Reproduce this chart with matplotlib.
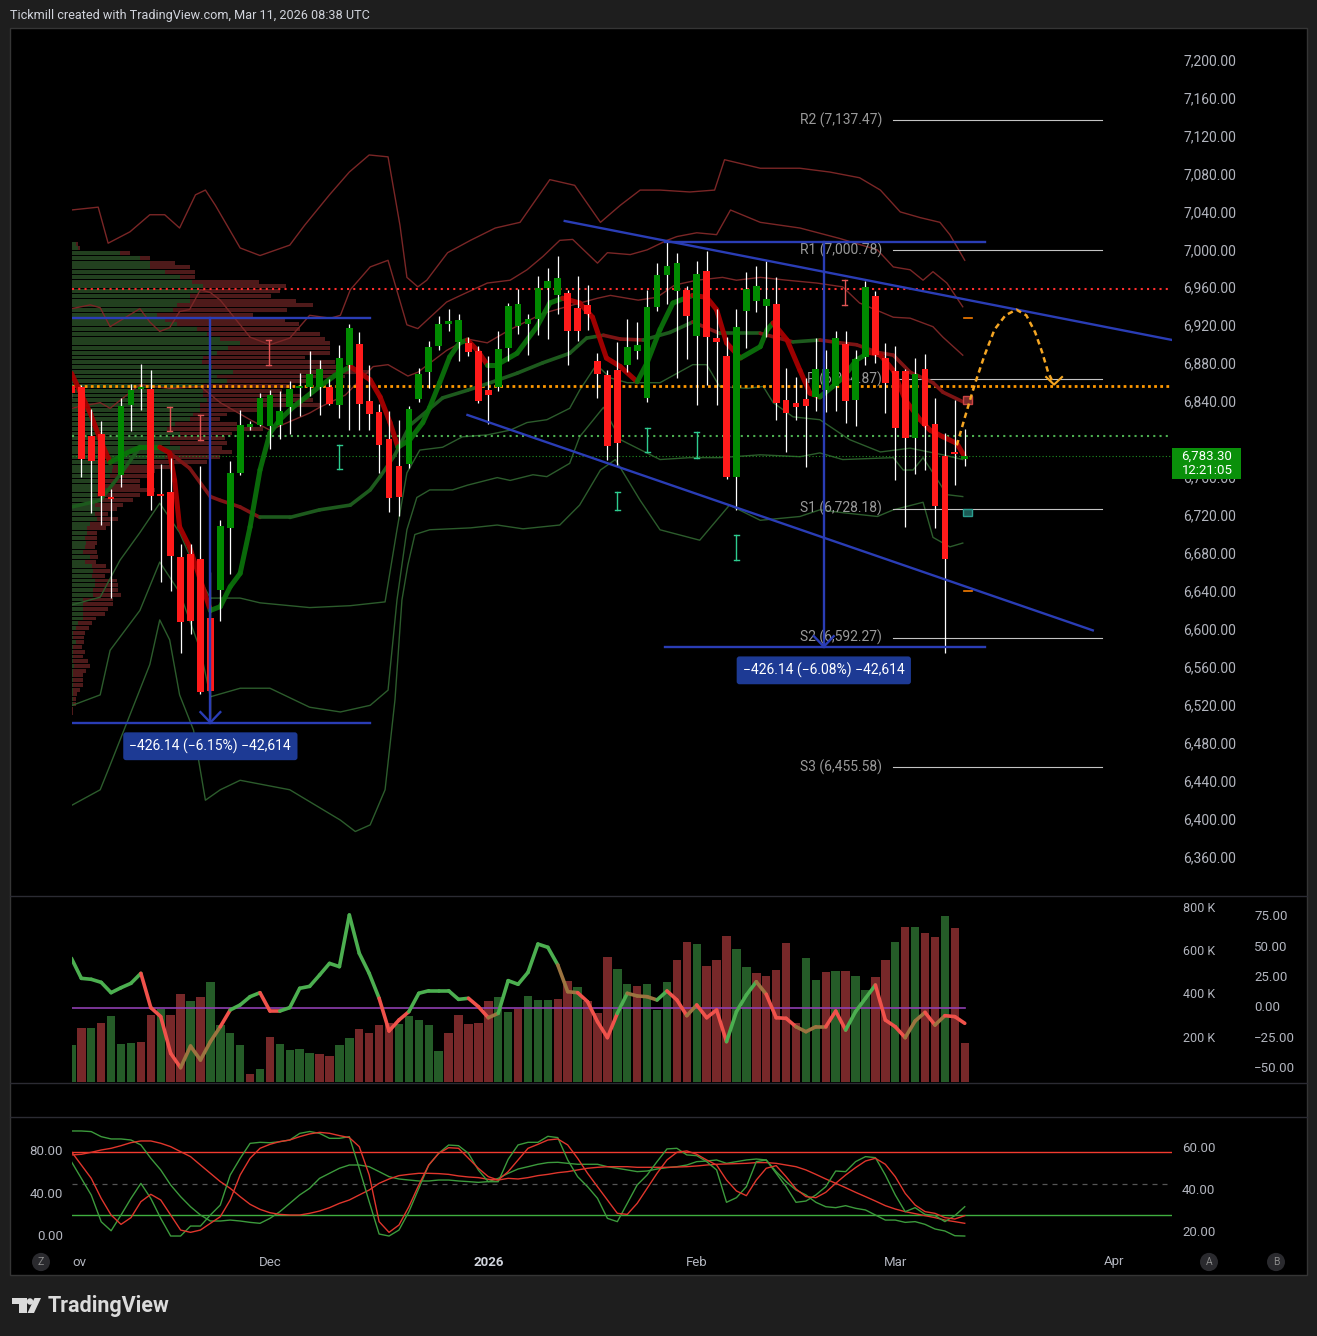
import numpy as np
import matplotlib
matplotlib.use("Agg")
import matplotlib.pyplot as plt
from matplotlib.collections import LineCollection
from matplotlib.patches import Rectangle, Circle, Polygon
from matplotlib.transforms import blended_transform_factory as blend

plt.rcParams['font.family'] = ['Roboto', 'DejaVu Sans']

W, H = 1317, 1336

# ---------------- data (daily bars, Nov 2025 .. Mar 11 2026) ----------------
opens = [6858,6856,6805,6807,6741,6764,6837,6854,6854,6744,6746,6677,6680,6675,6613,6643,6708,6766,6814,6816,
         6815,6816,6835,6855,6856,6856,6856,6838,6880,6902,6842,6830,6802,6773,6775,6844,6872,6900,6923,6904,
         6903,6894,6853,6856,6898,6921,6923,6928,6961,6953,6956,6940,6943,6884,6869,6874,6880,6894,6845,6941,
         6974,6958,6959,6910,6979,6908,6889,6762,6937,6947,6942,6944,6843,6840,6844,6846,6853,6857,6902,6843,
         6888,6952,6887,6873,6873,6803,6875,6817,6784,6787,6781]
highs = [6862,6859,6833,6821,6749,6845,6860,6881,6874,6775,6782,6691,6691,6773,6661,6716,6778,6832,6821,6850,
         6853,6852,6863,6871,6894,6885,6865,6901,6923,6914,6880,6839,6831,6822,6836,6876,6905,6931,6939,6933,
         6909,6900,6889,6916,6945,6960,6933,6973,6982,6994,6959,6973,6964,6892,6874,6904,6928,6925,6959,6987,
         7011,6998,6963,6989,7000,6939,6909,6939,6978,6984,6989,6972,6877,6867,6866,6908,6895,6915,6915,6895,
         6968,6958,6903,6900,6875,6887,6891,6845,6808,6843,6812]
lows = [6845,6762,6724,6711,6634,6751,6810,6832,6727,6651,6641,6576,6596,6533,6507,6610,6659,6764,6811,6815,
        6791,6802,6807,6826,6847,6827,6837,6824,6811,6811,6811,6766,6725,6720,6771,6841,6855,6895,6915,6884,
        6889,6840,6817,6852,6884,6912,6890,6911,6907,6933,6880,6905,6917,6845,6780,6773,6872,6886,6841,6937,
        6944,6866,6886,6837,6859,6837,6760,6727,6898,6935,6909,6822,6788,6822,6772,6831,6830,6831,6819,6815,
        6880,6882,6829,6758,6709,6765,6769,6708,6576,6753,6773]
closes = [6850,6781,6778,6742,6738,6836,6853,6856,6742,6742,6678,6609,6610,6535,6536,6710,6766,6816,6817,6845,
          6848,6831,6854,6857,6870,6875,6839,6887,6919,6839,6828,6795,6739,6741,6833,6870,6899,6923,6926,6927,
          6893,6842,6848,6897,6942,6944,6928,6961,6968,6971,6915,6915,6933,6870,6794,6797,6899,6901,6941,6974,
          6984,6987,6931,6976,6909,6904,6762,6920,6960,6963,6949,6840,6829,6835,6836,6875,6875,6908,6842,6886,
          6962,6890,6861,6813,6803,6870,6815,6731,6675,6786,6783.3]

volume_k = [169,247,247,270,302,173,178,182,307,336,307,404,372,390,460,261,224,168,35,58,
            206,173,145,150,131,127,118,168,201,243,224,261,270,266,302,284,261,141,224,307,
            266,270,372,390,321,335,395,376,376,381,464,436,372,316,575,520,450,441,450,330,
            460,561,644,635,533,561,672,612,529,501,487,515,640,270,570,469,506,510,510,487,
            423,483,561,644,714,714,686,667,764,709,178]
volume_dir = "grgrgggrrg" "rrgrggggrg" "rggggrrggr" "rrrgggggrr" "rrrggrgggr" \
             "rgrrrggrgg" "grrgrrrggr" "rrrrggrgrg" "grrgrgrrgr" "r"

osc = [40.9,24.4,23.6,21.1,12.6,16.7,20.3,28.5,0.3,-7.1,-37.3,-49.1,-31.3,-42.8,-27.7,-15.4,-1.6,2.5,9.3,12.6,
       -2.5,-2.5,0.3,16.2,17.8,27.1,36.7,34.0,76.5,45.0,28.5,8.0,-18.9,-9.9,-3.0,12.1,14.2,14.2,14.2,7.1,
       8.0,1.1,-8.0,-4.4,22.5,19.5,29.3,52.6,49.9,35.4,13.4,12.6,5.2,-11.3,-24.4,-4.4,12.1,9.9,9.3,6.6,
       14.0,6.6,-6.3,2.5,-8.0,-1.6,-27.7,-3.0,10.7,21.6,11.3,-8.0,-8.5,-15.4,-19.5,-15.4,-15.4,-2.5,-18.1,-3.0,
       8.0,18.9,-9.9,-15.4,-24.4,-10.7,-3.6,-14.0,-6.3,-7.1,-12.6]
osc_state = "ggggggg" "rrrr" "bbbb" "r" "ggg" "rr" "gggggggggg" "rrr" "gggggg" "rr" "b" "gggggg" "bb" \
            "rrr" "r" "g" "bbb" "g" "rr" "b" "rrr" "ggg" "b" "rrr" "bbb" "rr" "ggg" "rrr" "bb" "r" "b" "rr"

stoch_k = [70.8,54.9,39.0,13.6,5.0,20.0,35.8,50.1,35.8,16.8,0.0,0.0,9.5,9.5,20.0,29.5,58.1,73.9,88.2,89.2,
           88.8,89.8,91.4,97.7,99.5,97.7,93.0,93.0,94.6,64.4,32.7,1.9,0.0,5.7,23.1,45.3,67.6,78.7,86.6,86.0,
           78.7,62.8,51.7,51.7,73.0,86.7,89.2,89.2,94.9,93.7,72.4,56.5,47.0,35.9,16.8,13.7,31.1,48.6,58.1,70.8,
           82.9,83.5,77.2,76.5,70.8,62.9,32.1,36.5,47.0,70.8,72.4,59.7,47.0,32.1,33.3,39.1,47.0,61.9,61.3,70.8,
           75.6,74.6,58.1,39.1,23.2,27.0,20.6,19.4,13.7,19.4,27.9]
stoch_d = [80.3,67.6,54.9,35.9,20.0,11.1,17.5,32.7,39.7,34.3,20.0,5.7,3.5,5.7,12.1,18.4,34.3,58.1,74.0,83.5,
           87.3,89.9,91.4,94.6,97.2,98.7,97.8,95.6,93.7,85.1,58.1,13.7,3.5,10.5,27.9,48.6,67.6,78.7,84.1,83.5,
           74.0,64.5,56.5,53.3,61.3,72.4,83.5,87.3,91.4,92.4,86.7,74.0,59.7,47.0,34.3,21.6,20.6,31.1,45.4,59.7,
           72.4,79.7,81.0,77.8,72.4,67.6,53.3,42.9,38.4,53.3,64.5,67.0,56.5,44.8,37.5,36.5,41.6,50.2,58.1,65.1,
           71.4,74.0,68.3,56.5,40.6,29.5,23.2,21.6,17.5,16.2,19.4]
slow_k = [100,100,99.4,94.6,92.4,92.4,91.4,86.7,74.0,62.9,48.6,37.5,27.9,20.0,14.3,14.3,15.2,14.3,13.0,12.1,
          16.8,23.2,31.1,39.1,45.4,54.9,59.7,64.5,67.6,67.6,66.0,61.3,56.5,54.3,53.3,52.4,52.4,53.3,53.3,52.4,
          51.8,51.1,51.8,54.9,59.7,63.8,66.0,68.3,69.9,70.2,69.2,68.3,68.3,68.3,66.0,64.5,62.9,61.3,61.9,63.8,
          65.1,66.0,67.6,70.8,71.4,72.4,69.2,70.8,72.4,73.3,72.4,61.3,51.8,43.8,39.1,32.1,27.9,27.0,28.9,26.4,
          24.8,20.0,15.2,15.2,13.0,13.7,11.1,6.7,4.8,0.3,0.0]
slow_d = [77.2,77.8,79.7,81.9,83.5,86.0,88.9,90.5,90.5,88.3,85.1,80.3,75.6,67.6,59.7,51.8,45.4,37.5,30.2,25.4,
          22.2,20.6,20.0,20.0,21.6,23.8,27.0,31.1,34.3,39.1,43.8,50.2,54.3,57.5,58.7,59.7,59.7,59.4,58.7,57.2,
          56.2,55.6,54.0,53.3,54.9,54.3,55.6,57.5,58.7,60.3,61.3,62.9,64.5,65.4,66.0,66.0,66.0,65.4,65.4,65.4,
          65.4,65.7,66.0,66.7,67.6,68.3,68.6,68.9,69.2,69.9,69.9,69.2,67.6,66.0,62.9,58.7,54.3,50.2,46.0,41.6,
          37.5,33.3,28.9,25.7,23.2,21.3,19.4,17.5,15.2,13.7,12.1]

# moving averages and bands: (bar, price) vertices
fast_ma = [(0,6871),(1.9,6829),(2.9,6801),(3.9,6777),(5.6,6787),(6.9,6793),(8.9,6793),(9.9,6787),(10.4,6758),
           (10.9,6709),(11.9,6688),(13,6653),(14,6621),(15,6625),(16,6646),(17,6660),(18,6709),(19,6769),
           (20,6808),(21,6822),(22.3,6835),(25,6857),(26.6,6869),(28.1,6878),(30.1,6864),(31.1,6846),
           (32.1,6819),(32.9,6793),(34.1,6801),(35.4,6819),(36.1,6835),(37.1,6861),(38.1,6888),(39.1,6903),
           (39.9,6906),(40.9,6895),(41.9,6880),(42.9,6880),(44.9,6892),(46.9,6920),(48.2,6945),(49.5,6950),
           (51.2,6945),(52.5,6930),(53.9,6887),(55.3,6878),(57,6862),(58,6882),(59.3,6917),(60.6,6945),
           (62.6,6953),(64,6951),(65,6938),(66,6903),(67.4,6887),(69.4,6899),(70.1,6917),(70.7,6924),
           (72.1,6906),(73.4,6874),(74.4,6850),(75.4,6846),(76.7,6857),(77.7,6866),(79.1,6885),(80.4,6893),
           (81.5,6890),(82.8,6874),(84,6843),(85.5,6822),(86.5,6811),(87.8,6804),(89.2,6797),(90,6783)]
slow_ma = [(0,6730),(2.9,6737),(4.9,6764),(6.9,6793),(8.9,6793),(9.9,6787),(11.9,6771),(14,6741),(15,6737),
           (17,6730),(19,6719),(22,6719),(25,6727),(28.1,6732),(30.1,6748),(31.1,6762),(32.6,6785),(34.1,6816),
           (37.4,6845),(39.9,6853),(42.2,6861),(44.9,6871),(47.5,6882),(50.2,6892),(51.9,6908),(53.6,6911),
           (55.3,6907),(57.6,6906),(60.3,6914),(62.6,6925),(65.3,6913),(69.4,6913),(72.7,6904),(75.4,6906),
           (77.4,6903),(79.1,6901),(81.2,6893),(82.8,6890),(84.5,6872),(86.8,6861),(87.8,6851),(89.8,6841)]
band_u2 = [(0,7043),(2.7,7046),(3.7,7008),(5.9,7020),(7.9,7038),(9.4,7038),(10.9,7024),(12.5,7059),(13.5,7064),
           (14.5,7048),(17,7003),(19,6995),(22,7006),(23.5,7027),(26,7059),(28,7083),(30,7101),(31.9,7099),
           (33.1,7027),(33.8,6972),(34.9,6962),(35.8,6969),(37.9,6998),(40.2,7011),(42.7,7024),(45.2,7030),
           (48.2,7075),(50.7,7069),(53.3,7030),(55.3,7048),(57.3,7064),(59.3,7064),(62.3,7062),(64.8,7064),
           (65.8,7096),(69.4,7087),(73.4,7087),(76.4,7083),(79.4,7077),(81.5,7064),(83.5,7041),(85.5,7035),
           (87.5,7030),(88.5,7017),(90,6990)]
band_u1 = [(0,6939),(1.9,6943),(2.9,6940),(3.9,6920),(6.9,6939),(7.9,6925),(8.9,6915),(9.9,6919),(10.9,6936),
           (11.9,6938),(13,6959),(14,6956),(15,6948),(18,6909),(20,6901),(22,6908),(24,6932),(26.1,6929),
           (27.1,6932),(28.1,6959),(30.1,6983),(31.9,6990),(33.8,6922),(34.9,6918),(37.8,6946),(38.8,6951),
           (41.9,6966),(44.2,6969),(45.9,6980),(47.5,6994),(49.2,7011),(50.5,7012),(53,6987),(54,6998),
           (56.3,6996),(58,7001),(60,7011),(61,7015),(63,7019),(65,7017),(66.4,7043),(69.4,7030),(73.4,7024),
           (77.4,7013),(81.2,7001),(82.8,6983),(84.5,6980),(85.8,6969),(86.8,6978),(88.2,6966),(89.8,6941)]
band_u0 = [(0,6834),(2.9,6840),(3.9,6834),(6.9,6859),(9.9,6855),(13,6857),(15,6840),(18,6822),(20,6811),
           (24,6829),(25,6835),(27.6,6848),(30.4,6878),(31.9,6880),(33.9,6868),(34.9,6872),(37.8,6895),
           (39.9,6907),(41.9,6903),(44.2,6917),(47.5,6934),(50.2,6942),(53,6950),(54.3,6953),(57.1,6948),
           (59,6951),(60.8,6964),(63,6969),(65.6,6972),(67,6969),(69.4,6972),(72.1,6969),(75.1,6966),
           (77.7,6962),(79.4,6945),(82.8,6930),(84.5,6929),(86.8,6920),(87.8,6909),(89.8,6890)]
band_l0 = [(0.1,6627),(2.9,6635),(4.9,6674),(6.9,6703),(8.9,6734),(10.9,6703),(13,6653),(14,6634),(17,6634),
           (19,6629),(24,6624),(28.1,6626),(31.6,6630),(32.8,6706),(33.8,6766),(35.1,6790),(37.4,6793),
           (39.4,6804),(41.9,6806),(44.2,6811),(45.9,6819),(47.9,6822),(50.2,6834),(51.2,6853),(52.9,6880),
           (54.3,6866),(56,6861),(59.3,6861),(62.6,6880),(64,6880),(65.3,6857),(68.1,6855),(69.7,6857),
           (70.7,6840),(72.7,6825),(75.4,6822),(78.4,6801),(81.5,6788),(84.5,6792),(87.8,6785),(89.8,6780)]
band_l1 = [(0.1,6521),(2.9,6532),(3.9,6579),(6.9,6621),(8.9,6672),(10.9,6640),(13,6579),(14,6530),(17,6539),
           (20,6539),(24,6519),(27.1,6514),(30.1,6521),(31.9,6537),(32.8,6632),(33.8,6706),(34.8,6740),
           (36.1,6748),(38.4,6748),(39.9,6753),(42.9,6761),(44.2,6758),(46.5,6764),(47.9,6762),(50.2,6776),
           (51.2,6804),(53.6,6835),(55.3,6801),(59.3,6780),(62.3,6782),(65.3,6782),(69.4,6785),(73.4,6783),
           (75.4,6787),(77.7,6780),(82.8,6782),(83.8,6769),(84.8,6769),(85.8,6782),(86.8,6766),(88.2,6743),
           (89.8,6741)]
band_l2 = [(0.1,6416),(2.9,6432),(3.9,6458),(5.9,6511),(7.9,6564),(8.9,6611),(9.9,6590),(10.9,6532),(12.3,6495),
           (13.5,6421),(15,6432),(17,6442),(22,6432),(27.1,6400),(28.6,6388),(30.1,6395),(31.6,6432),(32.6,6527),
           (33.3,6632),(33.9,6669),(34.6,6701),(36.1,6706),(40.2,6708),(42.9,6711),(45.5,6707),(49.2,6711),
           (51.2,6732),(53.3,6769),(54.8,6780),(57.3,6737),(59.3,6706),(63.3,6695),(66.3,6732),(69.4,6716),
           (73.4,6720),(75.4,6727),(77.7,6724),(81.2,6720),(82.8,6727),(85.8,6735),(86.8,6698),(88.5,6688),
           (89.8,6692)]

# fixed-range volume profile, rows of 5 points from the top row down
vp_top_price = 7007.5
vp_row_step = 5
vp_up = [4,6,48,68,78,78,93,108,120,131,128,118,118,105,101,85,93,105,125,135,148,168,156,145,131,130,140,161,
         145,155,131,131,131,135,128,128,121,118,103,95,108,98,98,108,98,93,78,41,40,38,28,28,38,25,28,23,28,23,
         25,18,15,15,13,14,13,11,18,13,20,21,20,23,23,21,21,11,11,11,11,11,6,4,1,1,4,1,1,1,1,2,1,1,1,1,1,1,1,1,0,0]
vp_down = [2,2,10,10,25,40,30,15,67,83,80,81,106,136,114,96,120,122,103,113,105,90,102,113,102,133,128,137,
           128,80,87,79,97,106,120,60,34,30,62,96,52,55,57,42,62,55,57,59,43,37,40,40,45,43,33,28,17,13,21,20,
           19,10,12,11,10,14,8,11,14,17,13,22,23,25,28,30,30,25,22,13,14,13,12,11,8,9,12,10,15,16,13,10,10,10,
           7,4,3,3,1,1]

# levels
red_level, orange_level, green_level = 6960, 6857.5, 6805
pivots = [("R2", 7137.47), ("R1", 7000.78), ("P", 6864.87), ("S1", 6728.18), ("S2", 6592.27), ("S3", 6455.58)]
channel_upper = [(49.7, 7031.4), (110.9, 6906)]
channel_lower = [(39.9, 6827), (102.9, 6600)]
measure_left = dict(x0=0.06, x1=30.1, xm=14.0, top=6929.0, bottom=6502.86, text="\u2212426.14 (\u22126.15%) \u221242,614")
measure_right = dict(x0=59.8, x1=92.0, xm=75.8, top=7009.0, bottom=6582.86, text="\u2212426.14 (\u22126.08%) \u221242,614")
projection = [(89.2,6795),(90,6824),(91,6859),(92,6890),(93,6917),(94.1,6932),(95.2,6938),(96.2,6932),
              (97.1,6914),(97.8,6893),(98.4,6872),(99,6859)]
red_marks = [(9.9,6810,6835),(13,6801,6827),(19.9,6880,6906),(77.9,6943,6969)]
teal_marks = [(27,6770,6795),(55,6727,6746),(58,6788,6813),(63,6782,6809),(67,6674,6700)]

price_ticks = list(range(6360, 7201, 40))
month_ticks = [(20, "Dec"), (42, "2026"), (63, "Feb"), (83, "Mar"), (105, "Apr")]

# ---------------- layout helpers ----------------
GRN, RED = '#008a00', '#ff1a1a'
TXT = '#b2b5be'
XL = (0.06, 110.88)


def rect(x0, y0, x1, y1):
    return [x0 / W, 1 - y1 / H, (x1 - x0) / W, (y1 - y0) / H]


def colored_line(ax, pts, up_c, dn_c, lw, z, alpha=1.0):
    pts = np.asarray(pts, float)
    segs = np.stack([pts[:-1], pts[1:]], axis=1)
    cols = [up_c if s[1, 1] >= s[0, 1] else dn_c for s in segs]
    ax.add_collection(LineCollection(segs, colors=cols, linewidths=lw, zorder=z,
                                     capstyle='round', joinstyle='round', alpha=alpha))


fig = plt.figure(figsize=(W / 100, H / 100), dpi=100, facecolor='#1e1e1e')
fig.patches.append(Rectangle((10 / W, 1 - 1275 / H), 1297 / W, 1247 / H, transform=fig.transFigure,
                             facecolor='black', edgecolor='#353535', lw=1, zorder=-10))
for yy in (896, 1083, 1117):
    fig.add_artist(plt.Line2D([10 / W, 1307 / W], [1 - yy / H] * 2, color='#2b2b33', lw=1, zorder=-5))

fig.text(10 / W, 1 - 15 / H, "Tickmill created with TradingView.com, Mar 11, 2026 08:38 UTC",
         color='#d1d4dc', fontsize=9.1, va='center')

# ---------------- main price pane ----------------
ax = fig.add_axes(rect(72, 28, 1172, 895))
ax.set_facecolor('none')
ax.set_xlim(*XL)
ax.set_ylim(6321.1, 7234.8)
ax.axis('off')

n = len(closes)
x = np.arange(n)
o, hi, lo, c = map(np.asarray, (opens, highs, lows, closes))

# volume profile on the left
vp_up = np.asarray(vp_up, float)
vp_down = np.asarray(vp_down, float)
rows = vp_top_price - vp_row_step * np.arange(len(vp_up))
px_per_bar = 9.926
ax.barh(rows, vp_up / px_per_bar, left=XL[0], height=4.1, color='#22401f', lw=0, zorder=1)
ax.barh(rows, vp_down / px_per_bar, left=XL[0] + vp_up / px_per_bar, height=4.1, color='#4e1a1a', lw=0, zorder=1)

# bands
for band in (band_u2, band_u1, band_u0):
    b = np.asarray(band)
    ax.plot(b[:, 0], b[:, 1], color='#7a2626', lw=1.0, zorder=2)
for band in (band_l0, band_l1, band_l2):
    b = np.asarray(band)
    ax.plot(b[:, 0], b[:, 1], color='#2c5c2c', lw=1.0, zorder=2)

# moving averages
colored_line(ax, slow_ma, '#1d5a1d', '#7d1414', 2.6, 3)
colored_line(ax, fast_ma, '#0b700b', '#a80000', 3.6, 3, alpha=0.95)

# horizontal levels
ax.axhline(red_level, color='#ff2d2d', lw=1.5, ls=(0, (1, 2)), zorder=2)
ax.axhline(orange_level, color='#ff9800', lw=2.0, ls=(0, (1, 1.2)), zorder=2)
ax.axhline(green_level, color='#4caf50', lw=1.5, ls=(0, (1, 2)), zorder=2)
ax.axhline(closes[-1], color='#1f8f1f', lw=0.8, ls=(0, (1, 2)), zorder=2)

# pivots
for name, lvl in pivots:
    ax.plot([82.8, 103.8], [lvl, lvl], color='#c4c4c4', lw=0.8, zorder=2)
    ax.text(81.7, lvl, f"{name} ({lvl:,.2f})", color='#9a9a9a', fontsize=10, ha='right', va='center', zorder=2)

# candles
up = c >= o
ax.vlines(x, lo, hi, color='white', lw=0.9, zorder=4)
ax.bar(x, np.maximum(np.abs(c - o), 1.8), bottom=np.minimum(o, c), width=0.68,
       color=np.where(up, GRN, RED), lw=0, zorder=5)

# small markers
for marks, col in ((red_marks, '#e05555'), (teal_marks, '#2ecc8f')):
    for xm, y0, y1 in marks:
        ax.plot([xm, xm], [y0, y1], color=col, lw=1, zorder=4)
        ax.plot([xm - 0.25, xm + 0.25], [y0, y0], color=col, lw=1, zorder=4)
        ax.plot([xm - 0.25, xm + 0.25], [y1, y1], color=col, lw=1, zorder=4)

# trend channel and measurements
BLUE = '#2a3db5'
for seg in (channel_upper, channel_lower):
    s = np.asarray(seg)
    ax.plot(s[:, 0], s[:, 1], color=BLUE, lw=1.7, zorder=6)
for m in (measure_left, measure_right):
    ax.plot([m['x0'], m['x1']], [m['top']] * 2, color=BLUE, lw=1.7, zorder=6)
    ax.plot([m['x0'], m['x1']], [m['bottom']] * 2, color=BLUE, lw=1.7, zorder=6)
    ax.plot([m['xm'], m['xm']], [m['top'], m['bottom']], color=BLUE, lw=1.7, zorder=6)
    ax.plot([m['xm'] - 1.0, m['xm'], m['xm'] + 1.0], [m['bottom'] + 11, m['bottom'], m['bottom'] + 11],
            color=BLUE, lw=1.7, zorder=6)
    ax.text(m['xm'], m['bottom'] - 25, m['text'], color='white', fontsize=10, ha='center', va='center', zorder=8,
            bbox=dict(boxstyle='round,pad=0.45,rounding_size=0.2', fc='#1d3a94', ec='none'))

# projection path
pr = np.asarray(projection)
ax.plot(pr[:, 0], pr[:, 1], color='#f5a623', lw=1.8, ls=(0, (2.2, 1.6)), zorder=7)
ax.plot([pr[-1, 0] - 0.8, pr[-1, 0], pr[-1, 0] + 0.8], [pr[-1, 1] + 8, pr[-1, 1], pr[-1, 1] + 8],
        color='#f5a623', lw=1.5, zorder=7)

# future band markers
ax.plot([89.9, 90.7], [6929, 6929], color='#f57c00', lw=1.2, zorder=6)
ax.plot([89.9, 90.7], [6641, 6641], color='#f57c00', lw=1.2, zorder=6)
ax.add_patch(Rectangle((89.8, 6839), 0.95, 8, fc='#7a2a2a', ec='#cc4444', lw=1, zorder=6))
ax.add_patch(Rectangle((89.8, 6720), 0.95, 8, fc='#1b5a55', ec='#2a9d8f', lw=1, zorder=6))

# right price scale with the live price tag
y_last = ax.transData.transform((0, closes[-1]))[1] / H
tag_bottom = y_last - 23 / H
below_tag = Rectangle((1172 / W, 0), 135 / W, tag_bottom, transform=fig.transFigure)
tr = blend(fig.transFigure, ax.transData)
for p in price_ticks:
    t = ax.text(1236 / W, p, f"{p:,.2f}", transform=tr, ha='right', va='center', color=TXT, fontsize=10,
                clip_on=False)
    if abs(p - closes[-1]) < 30:
        t.set_clip_on(True)
        t.set_clip_path(below_tag)
fig.patches.append(Rectangle((1172 / W, tag_bottom), 69 / W, 31 / H, transform=fig.transFigure,
                             fc='#0a900a', ec='none', zorder=5))
fig.text(1207 / W, y_last - 7 / H, f"{closes[-1]:,.2f}\n12:21:05", color='white', fontsize=9.5,
         ha='center', va='center', linespacing=1.05, zorder=6)

# ---------------- volume + oscillator pane ----------------
axv = fig.add_axes(rect(72, 897, 1172, 1083))
axv.set_facecolor('none')
axv.set_xlim(*XL)
axv.set_ylim(-6.9, 852)
axv.axis('off')
axv.bar(x, volume_k, width=0.85, color=['#255c28' if d == 'g' else '#772829' for d in volume_dir], lw=0)

axo = fig.add_axes(rect(72, 897, 1172, 1083))
axo.set_facecolor('none')
axo.set_xlim(*XL)
axo.set_ylim(-61.7, 91.3)
axo.axis('off')
axo.plot([0, n - 1], [0, 0], color='#8e3fb0', lw=1.2)
ov = np.column_stack([x, osc])
osegs = np.stack([ov[:-1], ov[1:]], axis=1)
ocol = {'g': '#4caf50', 'r': '#f0524b', 'b': '#9c7440'}
axo.add_collection(LineCollection(osegs, colors=[ocol[s] for s in osc_state], linewidths=2.6,
                                  capstyle='round', joinstyle='round'))

trv = blend(fig.transFigure, axv.transData)
for v in (800, 600, 400, 200):
    axv.text(1183 / W, v, f"{v} K", transform=trv, color=TXT, fontsize=9, ha='left', va='center')
tro = blend(fig.transFigure, axo.transData)
for v in (75, 50, 25, 0, -25, -50):
    lab = f"{v:.2f}".replace('-', '\u2212')
    axo.text(1254 / W, v, lab, transform=tro, color=TXT, fontsize=9.5, ha='left', va='center')

# ---------------- stochastic pane ----------------
axs = fig.add_axes(rect(72, 1117, 1172, 1250))
axs.set_facecolor('none')
axs.set_xlim(*XL)
axs.set_ylim(-13.3, 113.3)
axs.axis('off')
axs.axhline(80, color='#f23b2f', lw=1.0)
axs.axhline(20, color='#3fae3f', lw=1.0)
axs.axhline(50, color='#555555', lw=0.9, ls=(0, (4, 4)))
axs.plot(x, slow_k, color='#3c9a3c', lw=1.0)
axs.plot(x, slow_d, color='#e0362c', lw=1.0)
axs.plot(x, stoch_k, color='#3c9a3c', lw=1.0)
axs.plot(x, stoch_d, color='#e0362c', lw=1.0)

trs = blend(fig.transFigure, axs.transData)
for v in (80, 40, 0):
    axs.text(63 / W, v, f"{v:.2f}", transform=trs, color=TXT, fontsize=9.5, ha='right', va='center')
for lab, ypx in (("60.00", 1148), ("40.00", 1190), ("20.00", 1232)):
    fig.text(1182 / W, 1 - ypx / H, lab, color=TXT, fontsize=9.5, ha='left', va='center')

# time axis
trt = blend(axs.transData, fig.transFigure)
axs.text(XL[0], 1 - 1262 / H, "ov", transform=trt, color=TXT, fontsize=9.5, ha='left', va='center')
for b, lab in month_ticks:
    axs.text(b, 1 - 1262 / H, lab, transform=trt, color='#d1d4dc' if lab == "2026" else TXT, fontsize=9.5,
             ha='center', va='center', fontweight='bold' if lab == "2026" else 'normal', clip_on=False)

for cx, letter in ((41, "Z"), (1209, "A"), (1276, "B")):
    fig.patches.append(Circle((cx / W, 1 - 1262 / H), 9 / W, transform=fig.transFigure, fc='#2a2a2e', ec='none'))
    fig.text(cx / W, 1 - 1262 / H, letter, color='#8a8a8a', fontsize=7.5, ha='center', va='center')

# footer logo
LG = '#dbdbdb'
fig.patches.append(Rectangle((12 / W, 1 - 1304 / H), 15 / W, 6 / H, transform=fig.transFigure, fc=LG, ec='none'))
fig.patches.append(Rectangle((19 / W, 1 - 1313 / H), 8 / W, 15 / H, transform=fig.transFigure, fc=LG, ec='none'))
fig.patches.append(Circle((30 / W, 1 - 1301.5 / H), 3.2 / W, transform=fig.transFigure, fc=LG, ec='none'))
fig.patches.append(Polygon([(27.5 / W, 1 - 1313 / H), (34.5 / W, 1 - 1298 / H), (41 / W, 1 - 1298 / H),
                            (34 / W, 1 - 1313 / H)], closed=True, transform=fig.transFigure, fc=LG, ec='none'))
fig.text(48 / W, 1 - 1306 / H, "TradingView", color=LG, fontsize=15.5, fontweight='bold', va='center', ha='left')

fig.savefig("out.png", dpi=100, facecolor=fig.get_facecolor())
